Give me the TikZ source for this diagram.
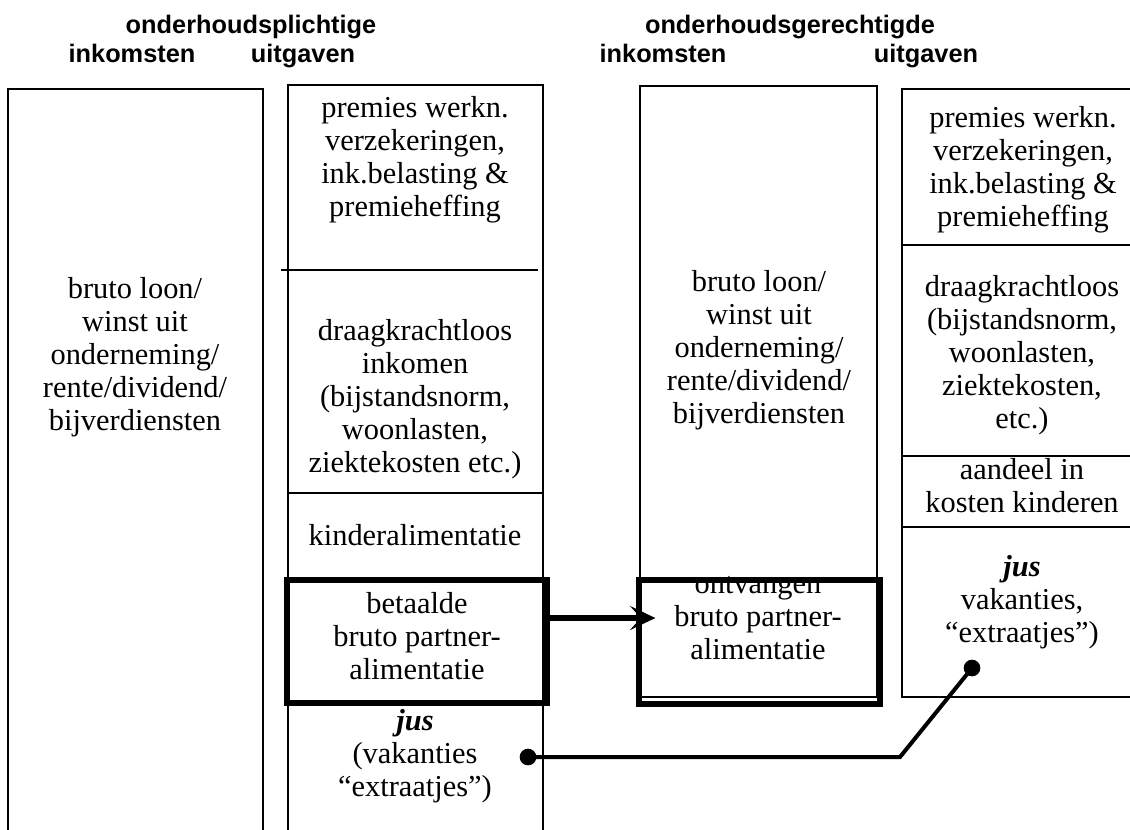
\documentclass[tikz,border=0pt]{standalone}
\usepackage{fontspec}
\setmainfont{Liberation Serif}
\setsansfont{Liberation Sans}
\usetikzlibrary{arrows.meta,fit}

\begin{document}
\begin{tikzpicture}[x=0.75pt, y=-0.75pt,
  kop/.style={font=\sffamily\bfseries\fontsize{19}{22}\selectfont, inner sep=0pt, anchor=base},
  tekst/.style={font=\fontsize{22.8}{24.75}\selectfont, align=center, inner sep=0pt},
  dun/.style={line width=1.2pt},
  dik/.style={draw, line width=4.3pt, inner sep=0pt},
  pijl/.style={line width=4pt, -{Stealth[length=19pt, width=18pt, inset=8pt]}},
  lijn/.style={line width=3pt},
  stip/.style={circle, fill, inner sep=0pt, minimum size=12.5pt}]
  \useasboundingbox (0,0) rectangle (1130,829);
  \clip (0,0) rectangle (1130,829);

  % koppen
  \node[kop] (plicht) at (251,33) {onderhoudsplichtige};
  \node[kop] (ink1) at (132,62) {inkomsten};
  \node[kop] (uit1) at (303,62) {uitgaven};
  \node[kop] (gerecht) at (790,33) {onderhoudsgerechtigde};
  \node[kop] (ink2) at (663,62) {inkomsten};
  \node[kop] (uit2) at (926,62) {uitgaven};

  % kolommen
  \draw[dun] (8,840) |- (263,89) -- (263,840);
  \draw[dun] (288,840) |- (543,85) -- (543,840);
  \draw[dun] (281,270) -- (538,270);
  \draw[dun] (288,493) -- (543,493);
  \draw[dun] (640,86) rectangle (877,697);
  \draw[dun] (902,89) rectangle (1150,697);
  \foreach \y in {245,456,527}
    \draw[dun] (902,\y) -- (1150,\y);

  % onderhoudsplichtige
  \node[tekst] (bruto1) at (135,357) {bruto loon/\\winst uit\\onderneming/\\rente/dividend/\\bijverdiensten};
  \node[tekst] (premies1) at (415,160) {premies werkn.\\verzekeringen,\\ink.belasting \&\\premieheffing};
  \node[tekst] (draag1) at (415,399) {draagkrachtloos\\inkomen\\(bijstandsnorm,\\woonlasten,\\ziektekosten etc.)};
  \node[tekst] (kinder) at (415,535) {kinderalimentatie};
  \node[tekst] (betaald) at (417,636) {betaalde\\bruto partner-\\alimentatie};
  \node[tekst] (jus1) at (415,756) {\textbf{\textit{jus}}\\(vakanties\\“extraatjes”)};

  % onderhoudsgerechtigde
  \node[tekst] (bruto2) at (759,350) {bruto loon/\\winst uit\\onderneming/\\rente/dividend/\\bijverdiensten};
  \node[tekst] (ontv) at (758,618) {ontvangen\\bruto partner-\\alimentatie};
  \node[tekst] (premies2) at (1023,170) {premies werkn.\\verzekeringen,\\ink.belasting \&\\premieheffing};
  \node[tekst] (draag2) at (1022,355) {draagkrachtloos\\(bijstandsnorm,\\woonlasten,\\ziektekosten,\\etc.)};
  \node[tekst] (aandeel) at (1022,486) {aandeel in\\kosten kinderen};
  \node[tekst] (jus2) at (1022,602) {\textbf{\textit{jus}}\\vakanties,\\“extraatjes”)};

  % partneralimentatie
  \node[dik, fit={(287,580) (547,703)}] (betaaldkader) {};
  \node[dik, fit={(639,580) (880,704)}] (ontvkader) {};
  \draw[pijl, shorten >=14pt] (betaaldkader.east |- ontv.center) -- (ontv.west);

  % jus
  \node[stip] (stip1) at (528,757) {};
  \node[stip] (stip2) at (972,668) {};
  \draw[lijn] (stip1.center) -- ++(372,0) -- (stip2.center);
\end{tikzpicture}
\end{document}
